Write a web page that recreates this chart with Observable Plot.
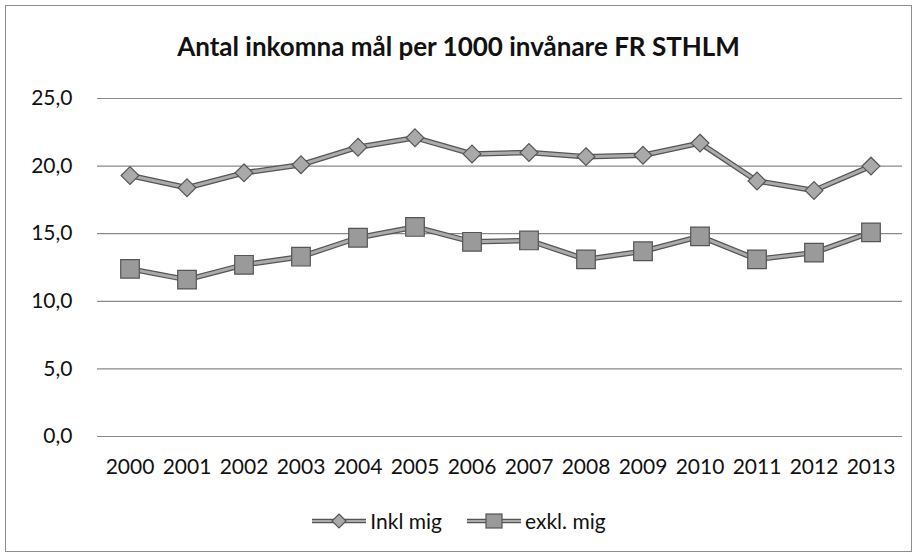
<!DOCTYPE html>
<html>
<head>
<meta charset="utf-8">
<script src="https://cdn.jsdelivr.net/npm/d3@7"></script>
<script src="https://cdn.jsdelivr.net/npm/@observablehq/plot@0.6"></script>
<style>
  html, body { margin: 0; padding: 0; background: #fff; }
  body { width: 917px; height: 558px; position: relative; overflow: hidden; font-family: Lato, "Open Sans", sans-serif; }
  #frame { position: absolute; left: 5px; top: 5px; width: 905px; height: 545px; border: 1px solid #8c8c8c; }
  #title { position: absolute; left: 0; top: 30px; width: 917px; text-align: center; font-size: 26px; font-weight: bold; color: #111; }
  #chart { position: absolute; left: 0; top: 0; }
  #legend { position: absolute; left: 0; top: 508px; width: 917px; text-align: center; font-size: 21px; color: #111; }
  #legend span.item { display: inline-flex; align-items: center; margin: 0 12px; }
  #legend svg { margin-right: 3px; }
</style>
</head>
<body>
<div id="frame"></div>
<div id="title">Antal inkomna mål per 1000 invånare FR STHLM</div>
<div id="chart"></div>
<div id="legend"></div>
<script>
const years = ["2000","2001","2002","2003","2004","2005","2006","2007","2008","2009","2010","2011","2012","2013"];
const inklMig = [19.3, 18.4, 19.5, 20.1, 21.4, 22.1, 20.9, 21.0, 20.7, 20.8, 21.7, 18.9, 18.2, 20.0];
const exklMig = [12.4, 11.6, 12.7, 13.3, 14.7, 15.5, 14.4, 14.5, 13.1, 13.7, 14.8, 13.1, 13.6, 15.1];
const yTicks = [0, 5, 10, 15, 20, 25];
const seriesNames = ["Inkl mig", "exkl. mig"];

const rows = [];
years.forEach((y, i) => {
  rows.push({year: y, value: inklMig[i], series: seriesNames[0]});
  rows.push({year: y, value: exklMig[i], series: seriesNames[1]});
});
const inklRows = rows.filter(d => d.series === seriesNames[0]);
const exklRows = rows.filter(d => d.series === seriesNames[1]);

const fmt = d => d.toFixed(1).replace(".", ",");

const plot = Plot.plot({
  width: 917,
  height: 490,
  marginTop: 98,
  marginBottom: 54,
  marginLeft: 97,
  marginRight: 15,
  style: {fontFamily: "Lato, 'Open Sans', sans-serif", fontSize: "21px", color: "#111", background: "transparent"},
  x: {type: "band", domain: years, label: null, tickSize: 0, tickPadding: 23, padding: 0},
  y: {domain: [0, 25], ticks: yTicks, tickFormat: fmt, label: null, tickSize: 0, tickPadding: 25},
  marks: [
    Plot.ruleY(yTicks, {stroke: "#8a8a8a", strokeWidth: 1.2}),
    Plot.line(inklRows, {x: "year", y: "value", stroke: "#555", strokeWidth: 5.5}),
    Plot.line(inklRows, {x: "year", y: "value", stroke: "#ababab", strokeWidth: 3}),
    Plot.line(exklRows, {x: "year", y: "value", stroke: "#555", strokeWidth: 5.5}),
    Plot.line(exklRows, {x: "year", y: "value", stroke: "#ababab", strokeWidth: 3}),
    Plot.dot(inklRows, {x: "year", y: "value", symbol: "diamond2", r: 8, fill: "#a9a9a9", stroke: "#555", strokeWidth: 1.2}),
    Plot.dot(exklRows, {x: "year", y: "value", symbol: "square", r: 10.5, fill: "#9a9a9a", stroke: "#555", strokeWidth: 1.2})
  ]
});
document.getElementById("chart").appendChild(plot);

// Legend
const legend = document.getElementById("legend");
function swatch(kind) {
  const ns = "http://www.w3.org/2000/svg";
  const svg = document.createElementNS(ns, "svg");
  svg.setAttribute("width", 56); svg.setAttribute("height", 20);
  const l1 = document.createElementNS(ns, "line");
  l1.setAttribute("x1", 1); l1.setAttribute("x2", 55); l1.setAttribute("y1", 10); l1.setAttribute("y2", 10);
  l1.setAttribute("stroke", "#555"); l1.setAttribute("stroke-width", 4.5);
  const l2 = l1.cloneNode(); l2.setAttribute("stroke", "#ababab"); l2.setAttribute("stroke-width", 2.2);
  svg.appendChild(l1); svg.appendChild(l2);
  let m;
  if (kind === 0) {
    m = document.createElementNS(ns, "path");
    m.setAttribute("d", "M28,3 L35,10 L28,17 L21,10 Z");
    m.setAttribute("fill", "#a9a9a9");
  } else {
    m = document.createElementNS(ns, "rect");
    m.setAttribute("x", 20); m.setAttribute("y", 3); m.setAttribute("width", 16); m.setAttribute("height", 14);
    m.setAttribute("fill", "#9a9a9a");
  }
  m.setAttribute("stroke", "#555"); m.setAttribute("stroke-width", 1.2);
  svg.appendChild(m);
  return svg;
}
seriesNames.forEach((name, i) => {
  const item = document.createElement("span");
  item.className = "item";
  item.appendChild(swatch(i));
  item.appendChild(document.createTextNode(name));
  legend.appendChild(item);
});
</script>
</body>
</html>
